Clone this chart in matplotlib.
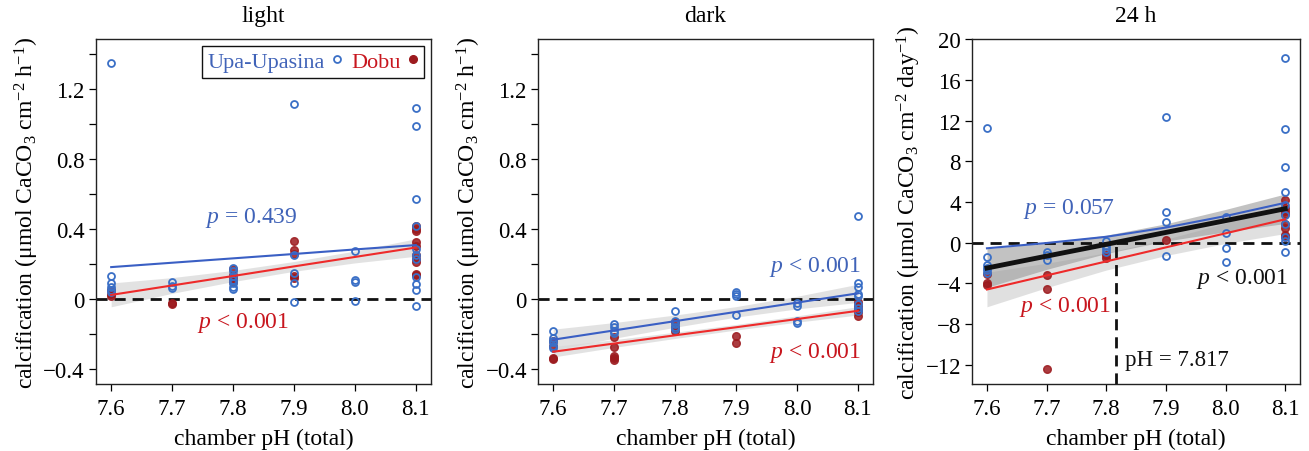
import matplotlib
matplotlib.use("Agg")
import matplotlib.pyplot as plt
from matplotlib.lines import Line2D

plt.rcParams["font.family"] = ["Liberation Serif", "DejaVu Serif"]
plt.rcParams["mathtext.fontset"] = "custom"
plt.rcParams["mathtext.rm"] = "Liberation Serif"
plt.rcParams["mathtext.it"] = "Liberation Serif:italic"

# ---- data ----
ph_ticks = [7.6, 7.7, 7.8, 7.9, 8.0, 8.1]

light_upa_ph = [7.6] * 6 + [7.7] * 3 + [7.8] * 7 + [7.9] * 5 + [8.0] * 4 + [8.1] * 11
light_upa_val = [1.35, 0.13, 0.09, 0.07, 0.05, 0.04,
                 0.10, 0.075, 0.065,
                 0.18, 0.16, 0.13, 0.11, 0.09, 0.07, 0.06,
                 1.115, 0.25, 0.15, 0.09, -0.015,
                 0.275, 0.11, 0.10, -0.01,
                 1.095, 0.99, 0.575, 0.42, 0.285, 0.255, 0.23, 0.125, 0.085, 0.05, -0.04]
light_dobu_ph = [7.6] * 3 + [7.7] * 2 + [7.8] * 4 + [7.9] * 5 + [8.1] * 10
light_dobu_val = [0.05, 0.03, 0.02,
                  -0.02, -0.03,
                  0.175, 0.14, 0.12, 0.10,
                  0.33, 0.28, 0.26, 0.13, 0.12,
                  0.42, 0.40, 0.39, 0.325, 0.305, 0.25, 0.23, 0.21, 0.145, 0.135]

dark_upa_ph = [7.6] * 6 + [7.7] * 4 + [7.8] * 5 + [7.9] * 4 + [8.0] * 4 + [8.1] * 8
dark_upa_val = [-0.185, -0.225, -0.238, -0.247, -0.267, -0.282,
                -0.143, -0.158, -0.181, -0.195,
                -0.067, -0.124, -0.143, -0.162, -0.171,
                0.042, 0.029, 0.015, -0.091,
                -0.023, -0.042, -0.124, -0.137,
                0.476, 0.091, 0.067, 0.029, 0.019, -0.029, -0.048, -0.067]
dark_dobu_ph = [7.6] * 4 + [7.7] * 5 + [7.8] * 3 + [7.9] * 2 + [8.1] * 5
dark_dobu_val = [-0.34, -0.335, -0.27, -0.24,
                 -0.219, -0.276, -0.328, -0.347, -0.339,
                 -0.13, -0.181, -0.158,
                 -0.213, -0.253,
                 -0.015, -0.038, -0.057, -0.076, -0.095]

day_upa_ph = [7.6] * 6 + [7.7] * 3 + [7.8] * 4 + [7.9] * 4 + [8.0] * 4 + [8.1] * 10
day_upa_val = [11.27, -1.43, -2.24, -2.46, -2.72, -2.98,
               -0.94, -1.17, -1.69,
               0.13, -0.29, -0.61, -0.94,
               12.4, 3.04, 2.07, -1.33,
               2.56, 0.91, -0.55, -1.88,
               18.2, 11.14, 7.48, 4.98, 3.69, 2.72, 1.81, 0.52, 0.13, -0.87]
day_dobu_ph = [7.6] * 3 + [7.7] * 3 + [7.8] * 2 + [7.9] * 1 + [8.1] * 8
day_dobu_val = [-3.95, -4.18, -3.05,
                -3.14, -4.6, -12.37,
                -1.17, -1.52,
                0.29,
                4.2, 3.43, 3.11, 2.78, 1.88, 1.49, 0.78, 0.52]

# fitted lines at ph_ticks, and half widths of the confidence bands
light_upa_fit = [0.183, 0.208, 0.233, 0.258, 0.284, 0.309]
light_dobu_fit = [0.024, 0.078, 0.132, 0.187, 0.241, 0.295]
light_dobu_ci = [0.068, 0.045, 0.032, 0.028, 0.034, 0.05]

dark_upa_fit = [-0.232, -0.179, -0.126, -0.073, -0.020, 0.033]
dark_upa_ci = [0.06, 0.045, 0.035, 0.03, 0.036, 0.052]
dark_dobu_fit = [-0.301, -0.254, -0.207, -0.161, -0.114, -0.067]
dark_dobu_ci = [0.03, 0.022, 0.018, 0.016, 0.018, 0.024]

day_upa_fit = [-0.55, -0.03, 0.58, 1.49, 2.62, 3.92]
day_dobu_fit = [-4.6, -3.22, -1.84, -0.46, 0.92, 2.3]
day_dobu_ci = [1.7, 1.2, 0.85, 0.8, 1.0, 1.4]
day_all_fit = [-2.49, -1.32, -0.16, 1.01, 2.17, 3.34]
day_all_ci = [1.9, 1.3, 0.9, 0.85, 1.1, 1.45]
ph_zero = 7.817

titles = ["light", "dark", "24 h"]

BLUE_PT = "#3a6fc6"
BLUE_LN = "#3a5fc4"
BLUE_TX = "#4063b8"
RED_PT = "#9c1a1e"
RED_LN = "#ee2a2a"
RED_TX = "#c8161e"
BAND = "#d9d9d9"
BAND_DARK = "#9a9a9a"

TICK_FS = 16.5
LABEL_FS = 17
P_FS = 17


def band(ax, fit, ci, color, alpha, z=1):
    lo = [f - c for f, c in zip(fit, ci)]
    hi = [f + c for f, c in zip(fit, ci)]
    ax.fill_between(ph_ticks, lo, hi, color=color, alpha=alpha, lw=0, zorder=z)


def points(ax, upa_ph, upa_val, dobu_ph, dobu_val):
    ax.plot(dobu_ph, dobu_val, "o", ms=5.5, mfc=RED_PT, mec=RED_PT, alpha=0.85, zorder=3)
    ax.plot(upa_ph, upa_val, "o", ms=5, mfc="none", mec=BLUE_PT, mew=1.3, zorder=3.5)


def zero_line(ax):
    ax.axhline(0, color="#111111", lw=2.0, dashes=(4, 2.5), zorder=2.5)


def style(ax, title, ylabel, yticks, ylabels, minor=None):
    ax.set_xlim(7.575, 8.125)
    ax.set_xticks(ph_ticks)
    ax.set_xticklabels(["7.6", "7.7", "7.8", "7.9", "8.0", "8.1"])
    ax.set_yticks(yticks)
    ax.set_yticklabels(ylabels)
    if minor is not None:
        ax.set_yticks(minor, minor=True)
    ax.tick_params(axis="both", which="both", direction="out", labelsize=TICK_FS, length=5,
                   width=0.9, pad=3)
    ax.tick_params(axis="x", pad=5)
    for s in ax.spines.values():
        s.set_linewidth(1.0)
        s.set_color("#222222")
    ax.set_title(title, fontsize=LABEL_FS, pad=13)
    ax.set_xlabel("chamber pH (total)", fontsize=LABEL_FS, labelpad=6)
    ax.set_ylabel(ylabel, fontsize=LABEL_FS, labelpad=2)


fig = plt.figure(figsize=(13.09, 4.52), dpi=100)
ax1 = fig.add_axes([0.0733, 0.148, 0.256, 0.763])
ax2 = fig.add_axes([0.411, 0.148, 0.256, 0.763])
ax3 = fig.add_axes([0.7426, 0.148, 0.2506, 0.763])

hr_label = r"calcification ($\mathrm{\mu}$mol CaCO$_3$ cm$^{-2}$ h$^{-1}$)"
day_label = r"calcification ($\mathrm{\mu}$mol CaCO$_3$ cm$^{-2}$ day$^{-1}$)"
hr_ticks = [-0.4, 0, 0.4, 0.8, 1.2]
hr_tlabels = ["\u22120.4", "0", "0.4", "0.8", "1.2"]
hr_minor = [-0.2, 0.2, 0.6, 1.0, 1.4]

# light
band(ax1, light_dobu_fit, light_dobu_ci, BAND, 0.75)
zero_line(ax1)
points(ax1, light_upa_ph, light_upa_val, light_dobu_ph, light_dobu_val)
ax1.plot(ph_ticks, light_upa_fit, color=BLUE_LN, lw=1.5, zorder=4)
ax1.plot(ph_ticks, light_dobu_fit, color=RED_LN, lw=1.5, zorder=4)
ax1.set_ylim(-0.486, 1.486)
ax1.text(7.754, 0.47, "$p$ = 0.439", color=BLUE_TX, fontsize=P_FS, va="center")
ax1.text(7.741, -0.13, "$p$ < 0.001", color=RED_TX, fontsize=P_FS, va="center")
style(ax1, titles[0], hr_label, hr_ticks, hr_tlabels, hr_minor)
handles = [Line2D([], [], ls="none", marker="o", ms=5, mfc="none", mec=BLUE_PT, mew=1.3),
           Line2D([], [], ls="none", marker="o", ms=5.5, mfc=RED_PT, mec=RED_PT)]
leg = ax1.legend(handles, ["Upa-Upasina", "Dobu"], ncol=2, markerfirst=False, loc="upper right",
                 fontsize=16, labelcolor=[BLUE_TX, RED_TX], fancybox=False, edgecolor="#111111",
                 framealpha=1, handlelength=0.5, handletextpad=0.3, columnspacing=0.4,
                 borderpad=0.25, borderaxespad=0.3)
leg.get_frame().set_linewidth(1.0)

# dark
band(ax2, dark_upa_fit, dark_upa_ci, BAND, 0.75)
band(ax2, dark_dobu_fit, dark_dobu_ci, BAND, 0.75)
zero_line(ax2)
points(ax2, dark_upa_ph, dark_upa_val, dark_dobu_ph, dark_dobu_val)
ax2.plot(ph_ticks, dark_upa_fit, color=BLUE_LN, lw=1.5, zorder=4)
ax2.plot(ph_ticks, dark_dobu_fit, color=RED_LN, lw=1.5, zorder=4)
ax2.set_ylim(-0.486, 1.486)
ax2.text(8.105, 0.19, "$p$ < 0.001", color=BLUE_TX, fontsize=P_FS, va="center", ha="right")
ax2.text(8.105, -0.30, "$p$ < 0.001", color=RED_TX, fontsize=P_FS, va="center", ha="right")
style(ax2, titles[1], hr_label, hr_ticks, hr_tlabels, hr_minor)

# 24 h
band(ax3, day_dobu_fit, day_dobu_ci, BAND, 0.8)
band(ax3, day_all_fit, day_all_ci, BAND_DARK, 0.6)
zero_line(ax3)
points(ax3, day_upa_ph, day_upa_val, day_dobu_ph, day_dobu_val)
ax3.plot(ph_ticks, day_upa_fit, color=BLUE_LN, lw=1.5, zorder=4)
ax3.plot(ph_ticks, day_dobu_fit, color=RED_LN, lw=1.5, zorder=4)
ax3.plot(ph_ticks, day_all_fit, color="#111111", lw=3.5, zorder=4.5)
ax3.set_ylim(-13.9, 19.8)
ax3.plot([ph_zero, ph_zero], [-13.9, 0], color="#111111", lw=2.0, dashes=(4, 2.5), zorder=2.5)
ax3.text(7.66, 3.4, "$p$ = 0.057", color=BLUE_TX, fontsize=P_FS, va="center")
ax3.text(7.653, -6.2, "$p$ < 0.001", color=RED_TX, fontsize=P_FS, va="center")
ax3.text(8.105, -3.5, "$p$ < 0.001", color="#111111", fontsize=P_FS, va="center", ha="right")
ax3.text(7.831, -11.5, "pH = 7.817", color="#111111", fontsize=16.5, va="center")
style(ax3, titles[2], day_label, [-12, -8, -4, 0, 4, 8, 12, 16, 20],
      ["\u221212", "\u22128", "\u22124", "0", "4", "8", "12", "16", "20"])

fig.savefig("out.png", dpi=100)
